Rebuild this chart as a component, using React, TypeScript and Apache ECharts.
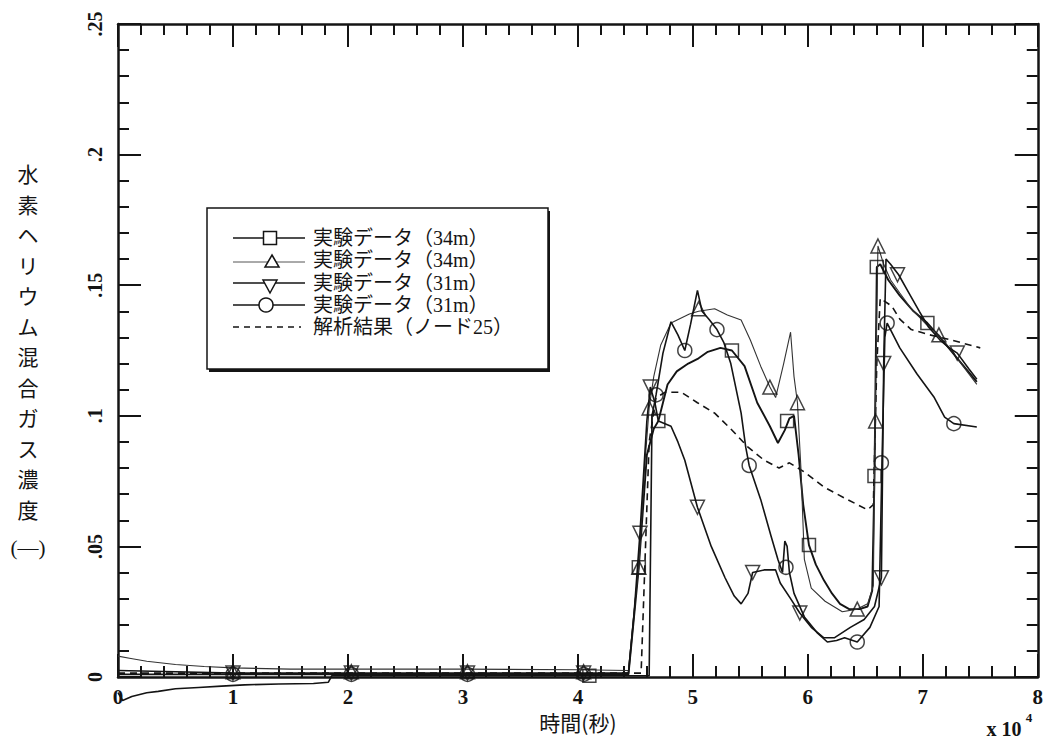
import { useEffect, useRef } from "react";
import * as echarts from "echarts";

const xTickLabels = ["0", "1", "2", "3", "4", "5", "6", "7", "8"];
const yTickLabels = ["0", ".05", ".1", ".15", ".2", ".25"];
const legendLabels = [
  "実験データ（34m）",
  "実験データ（34m）",
  "実験データ（31m）",
  "実験データ（31m）",
  "解析結果（ノード25）",
];
const yAxisTitle = ["水", "素", "ヘ", "リ", "ウ", "ム", "混", "合", "ガ", "ス", "濃", "度"];

// □ 実験データ (34m)
const sq34Line = [
  [0, 0.001], [1, 0.001], [2, 0.001], [3, 0.001], [4, 0.001], [4.44, 0.001], [4.53, 0.042],
  [4.6, 0.085], [4.66, 0.095], [4.7, 0.098], [4.78, 0.112], [4.86, 0.117], [4.96, 0.12],
  [5.05, 0.122], [5.13, 0.1245], [5.24, 0.126], [5.34, 0.125], [5.45, 0.119], [5.56, 0.105],
  [5.67, 0.096], [5.74, 0.0896], [5.8, 0.0945], [5.84, 0.099], [5.88, 0.1], [5.92, 0.085],
  [5.96, 0.066], [6.01, 0.0505], [6.07, 0.043], [6.14, 0.037], [6.21, 0.032], [6.28, 0.028],
  [6.36, 0.026], [6.45, 0.026], [6.52, 0.027], [6.56, 0.033], [6.58, 0.077], [6.6, 0.157],
  [6.63, 0.158], [6.7, 0.152], [6.8, 0.146], [6.92, 0.14], [7.04, 0.1355], [7.15, 0.13],
  [7.3, 0.122], [7.47, 0.113],
];
const sq34Marks = [
  [4.1, 0.0005], [4.53, 0.042], [4.7, 0.098], [5.34, 0.125], [5.82, 0.098], [6.01, 0.0505],
  [6.58, 0.077], [6.6, 0.157], [7.04, 0.1355],
];

// △ 実験データ (34m)
const tri34Line = [
  [0, 0.008], [0.1, 0.0072], [0.25, 0.006], [0.5, 0.0048], [0.75, 0.004], [1, 0.0035],
  [1.5, 0.003], [2, 0.003], [3, 0.003], [4, 0.0028], [4.44, 0.0025], [4.5, 0.03], [4.53, 0.042],
  [4.58, 0.08], [4.62, 0.103], [4.66, 0.115], [4.72, 0.127], [4.81, 0.1355], [4.97, 0.139],
  [5.05, 0.14], [5.19, 0.141], [5.3, 0.1386], [5.42, 0.1367], [5.5, 0.129], [5.59, 0.119],
  [5.67, 0.111], [5.72, 0.107], [5.79, 0.12], [5.85, 0.132], [5.88, 0.115], [5.91, 0.105],
  [5.94, 0.08], [5.97, 0.045], [6.03, 0.034], [6.15, 0.029], [6.3, 0.025], [6.43, 0.026],
  [6.52, 0.028], [6.57, 0.035], [6.585, 0.098], [6.61, 0.165], [6.66, 0.158], [6.72, 0.152],
  [6.8, 0.147], [6.9, 0.141], [7.03, 0.135], [7.14, 0.131], [7.25, 0.125], [7.35, 0.119],
  [7.47, 0.112],
];
const tri34Marks = [
  [1.0, 0.002], [2.03, 0.002], [3.04, 0.002], [4.05, 0.002], [4.53, 0.042], [4.62, 0.103],
  [5.05, 0.141], [5.67, 0.111], [5.91, 0.105], [6.43, 0.026], [6.59, 0.098], [6.61, 0.165],
  [7.14, 0.131],
];

// ▽ 実験データ (31m)
const tri31Line = [
  [0, 0.0025], [0.5, 0.002], [1, 0.0015], [2, 0.0015], [3, 0.0015], [4, 0.0015], [4.44, 0.0015],
  [4.49, 0.025], [4.54, 0.055], [4.6, 0.098], [4.63, 0.111], [4.67, 0.105], [4.7, 0.098],
  [4.81, 0.096], [4.87, 0.09], [4.93, 0.083], [5.04, 0.065], [5.16, 0.05], [5.28, 0.038],
  [5.36, 0.031], [5.42, 0.028], [5.48, 0.032], [5.52, 0.04], [5.62, 0.041], [5.72, 0.041],
  [5.76, 0.036], [5.85, 0.03], [5.93, 0.0245], [6.03, 0.019], [6.14, 0.015], [6.23, 0.015],
  [6.37, 0.019], [6.49, 0.022], [6.58, 0.027], [6.64, 0.038], [6.66, 0.12], [6.68, 0.16],
  [6.72, 0.158], [6.79, 0.154], [6.88, 0.147], [6.97, 0.14], [7.05, 0.134], [7.15, 0.129],
  [7.23, 0.126], [7.3, 0.124], [7.4, 0.118], [7.47, 0.114],
];
const tri31Marks = [
  [1.0, 0.0015], [2.03, 0.0015], [3.04, 0.0015], [4.05, 0.0015], [4.54, 0.055], [4.63, 0.111],
  [5.04, 0.065], [5.52, 0.04], [5.93, 0.0245], [6.64, 0.038], [6.66, 0.12], [6.78, 0.154],
  [7.3, 0.124],
];

// ○ 実験データ (31m)
const circ31Line = [
  [0, -0.006], [0.04, -0.009], [0.12, -0.0075], [0.25, -0.006], [0.35, -0.0055], [0.5, -0.0045],
  [0.7, -0.004], [0.9, -0.0035], [1.1, -0.003], [1.4, -0.0027], [1.7, -0.0025], [1.83, -0.002],
  [1.86, 0.0005], [4.62, 0.0005], [4.645, 0.1], [4.68, 0.108], [4.74, 0.124], [4.81, 0.136],
  [4.87, 0.131], [4.93, 0.125], [4.98, 0.135], [5.04, 0.148], [5.08, 0.14], [5.14, 0.137],
  [5.21, 0.133], [5.27, 0.128], [5.33, 0.12], [5.42, 0.101], [5.46, 0.088], [5.49, 0.081],
  [5.59, 0.068], [5.68, 0.054], [5.74, 0.045], [5.78, 0.04], [5.8, 0.052], [5.82, 0.05],
  [5.84, 0.04], [5.88, 0.032], [5.97, 0.023], [6.08, 0.017], [6.17, 0.0134], [6.25, 0.014],
  [6.32, 0.015], [6.43, 0.0134], [6.54, 0.019], [6.62, 0.027], [6.645, 0.082], [6.67, 0.13],
  [6.69, 0.1355], [6.8, 0.126], [6.95, 0.116], [7.1, 0.107], [7.19, 0.0995], [7.27, 0.097],
  [7.47, 0.0957],
];
const circ31Marks = [
  [1.0, 0.001], [2.03, 0.001], [3.04, 0.001], [4.05, 0.001], [4.68, 0.108], [4.93, 0.125],
  [5.21, 0.133], [5.49, 0.081], [5.81, 0.042], [6.43, 0.0134], [6.64, 0.082], [6.69, 0.1355],
  [7.27, 0.097],
];

// 解析結果 (ノード25)
const analysisLine = [
  [0, 0.0015], [4.55, 0.0015], [4.62, 0.09], [4.68, 0.107], [4.76, 0.109], [4.9, 0.109],
  [5.04, 0.105], [5.19, 0.101], [5.33, 0.095], [5.48, 0.088], [5.62, 0.083], [5.75, 0.08],
  [5.84, 0.082], [5.97, 0.0785], [6.14, 0.0727], [6.32, 0.0685], [6.52, 0.064], [6.57, 0.066],
  [6.6, 0.12], [6.63, 0.145], [6.73, 0.142], [6.8, 0.137], [6.9, 0.133], [7.06, 0.131],
  [7.25, 0.129], [7.5, 0.126],
];

const INK = "#141414";
const SERIF = '"Liberation Serif", "Noto Sans CJK JP", serif';
const CJK = '"Noto Sans CJK JP", "Liberation Serif", sans-serif';

function lineSeries(data: number[][], width: number, color = INK, type: any = "solid") {
  return {
    type: "line",
    data,
    symbol: "none",
    clip: false,
    silent: true,
    lineStyle: { color, width, type },
    z: 2,
  };
}

function markSeries(data: number[][], symbol: string, size: number, rotate = 0) {
  return {
    type: "scatter",
    data,
    symbol,
    symbolSize: size,
    symbolRotate: rotate,
    clip: false,
    silent: true,
    itemStyle: { color: "rgba(255,255,255,0)", borderColor: INK, borderWidth: 1.5 },
    z: 3,
  };
}

function axisCommon(isX: boolean, showLabel: boolean) {
  return {
    type: "value",
    min: 0,
    max: isX ? 8 : 0.25,
    interval: isX ? 1 : 0.05,
    axisLine: { show: true, onZero: false, lineStyle: { color: INK, width: 2.5 } },
    axisTick: { show: true, inside: true, length: 23, lineStyle: { color: INK, width: 2 } },
    minorTick: { show: true, splitNumber: 5, length: 11, lineStyle: { color: INK, width: 2 } },
    splitLine: { show: false },
    axisLabel: { show: showLabel },
  };
}

export default function App() {
  const ref = useRef<HTMLDivElement>(null);
  useEffect(() => {
    if (!ref.current) return;
    const chart = echarts.init(ref.current, null, { renderer: "svg" });
    const rows = [238, 260, 283, 305, 327];
    const lx0 = 233, lx1 = 305, lcx = 270;
    const legendGraphics: any[] = [
      { type: "rect", shape: { x: 209, y: 211, width: 341, height: 161 }, style: { fill: INK }, z: 10 },
      {
        type: "rect",
        shape: { x: 207, y: 208, width: 341, height: 161 },
        style: { fill: "#fff", stroke: INK, lineWidth: 1.5 },
        z: 11,
      },
      // row 1: square
      { type: "line", shape: { x1: lx0, y1: rows[0], x2: lx1, y2: rows[0] }, style: { stroke: INK, lineWidth: 1.6 }, z: 12 },
      { type: "rect", shape: { x: lcx - 6.5, y: rows[0] - 6.5, width: 13, height: 13 }, style: { fill: "#fff", stroke: INK, lineWidth: 1.5 }, z: 13 },
      // row 2: triangle up
      { type: "line", shape: { x1: lx0, y1: rows[1] + 2, x2: lx1, y2: rows[1] + 2 }, style: { stroke: "#555", lineWidth: 1 }, z: 12 },
      {
        type: "polygon",
        shape: { points: [[lcx + 2, rows[1] - 5], [lcx + 9, rows[1] + 7], [lcx - 5, rows[1] + 7]] },
        style: { fill: "#fff", stroke: INK, lineWidth: 1.5 },
        z: 13,
      },
      // row 3: triangle down
      { type: "line", shape: { x1: lx0, y1: rows[2], x2: lx1, y2: rows[2] }, style: { stroke: INK, lineWidth: 1.4 }, z: 12 },
      {
        type: "polygon",
        shape: { points: [[lcx - 7, rows[2] - 3], [lcx + 7, rows[2] - 3], [lcx, rows[2] + 10]] },
        style: { fill: "#fff", stroke: INK, lineWidth: 1.5 },
        z: 13,
      },
      // row 4: circle
      { type: "line", shape: { x1: lx0, y1: rows[3], x2: lx1, y2: rows[3] }, style: { stroke: INK, lineWidth: 1.4 }, z: 12 },
      { type: "circle", shape: { cx: lcx - 4, cy: rows[3], r: 7 }, style: { fill: "#fff", stroke: INK, lineWidth: 1.5 }, z: 13 },
      // row 5: dashed
      {
        type: "line",
        shape: { x1: lx0, y1: rows[4], x2: lx1 - 4, y2: rows[4] },
        style: { stroke: INK, lineWidth: 1.5, lineDash: [6, 5] },
        z: 12,
      },
    ];
    legendLabels.forEach((t, i) => {
      legendGraphics.push({
        type: "text",
        x: 313,
        y: rows[i],
        style: { text: t, font: `20px ${SERIF}`, fill: INK, textAlign: "left", textVerticalAlign: "middle" },
        z: 13,
      });
    });

    const option: any = {
      animation: false,
      backgroundColor: "#fff",
      grid: { left: 118, right: 5, top: 24, bottom: 67 },
      xAxis: [
        {
          ...axisCommon(true, true),
          position: "bottom",
          name: "時間(秒)",
          nameLocation: "middle",
          nameGap: 34,
          nameTextStyle: { fontFamily: CJK, fontSize: 21, color: INK },
          axisLabel: {
            show: true,
            formatter: (v: number) => xTickLabels[Math.round(v)] ?? "",
            fontFamily: SERIF,
            fontWeight: "bold",
            fontSize: 21,
            color: INK,
            margin: 9,
          },
        },
        { ...axisCommon(true, false), position: "top" },
      ],
      yAxis: [
        {
          ...axisCommon(false, true),
          position: "left",
          axisLabel: {
            show: true,
            rotate: 90,
            formatter: (v: number) => yTickLabels[Math.round(v / 0.05)] ?? "",
            fontFamily: SERIF,
            fontWeight: "bold",
            fontSize: 20,
            color: INK,
            margin: 13,
          },
        },
        { ...axisCommon(false, false), position: "right" },
      ],
      graphic: [
        ...legendGraphics,
        {
          type: "text",
          x: 28,
          y: 158,
          style: {
            text: yAxisTitle.join("\n"),
            font: `21px ${CJK}`,
            lineHeight: 30.5,
            fill: INK,
            textAlign: "center",
            textVerticalAlign: "top",
          },
        },
        {
          type: "text",
          x: 28,
          y: 548,
          style: { text: "(—)", font: `21px ${SERIF}`, fill: INK, textAlign: "center", textVerticalAlign: "middle" },
        },
        {
          type: "text",
          x: 1004,
          y: 729,
          style: { text: "x 10", font: `bold 20px ${SERIF}`, fill: INK, textAlign: "center", textVerticalAlign: "middle" },
        },
        {
          type: "text",
          x: 1029,
          y: 717,
          style: { text: "4", font: `bold 13px ${SERIF}`, fill: INK, textAlign: "center", textVerticalAlign: "middle" },
        },
      ],
      series: [
        lineSeries(analysisLine, 1.6, INK, [7, 5]),
        lineSeries(sq34Line, 1.9),
        lineSeries(tri34Line, 1.1, "#333"),
        lineSeries(tri31Line, 1.6),
        lineSeries(circ31Line, 1.6),
        markSeries(sq34Marks, "rect", 13),
        markSeries(tri34Marks, "triangle", 14),
        markSeries(tri31Marks, "triangle", 14, 180),
        markSeries(circ31Marks, "circle", 14),
      ],
    };
    chart.setOption(option);
    return () => chart.dispose();
  }, []);
  return (
    <div
      ref={ref}
      style={{ position: "absolute", left: 0, top: 0, width: 1046, height: 744, background: "#fff" }}
    />
  );
}
